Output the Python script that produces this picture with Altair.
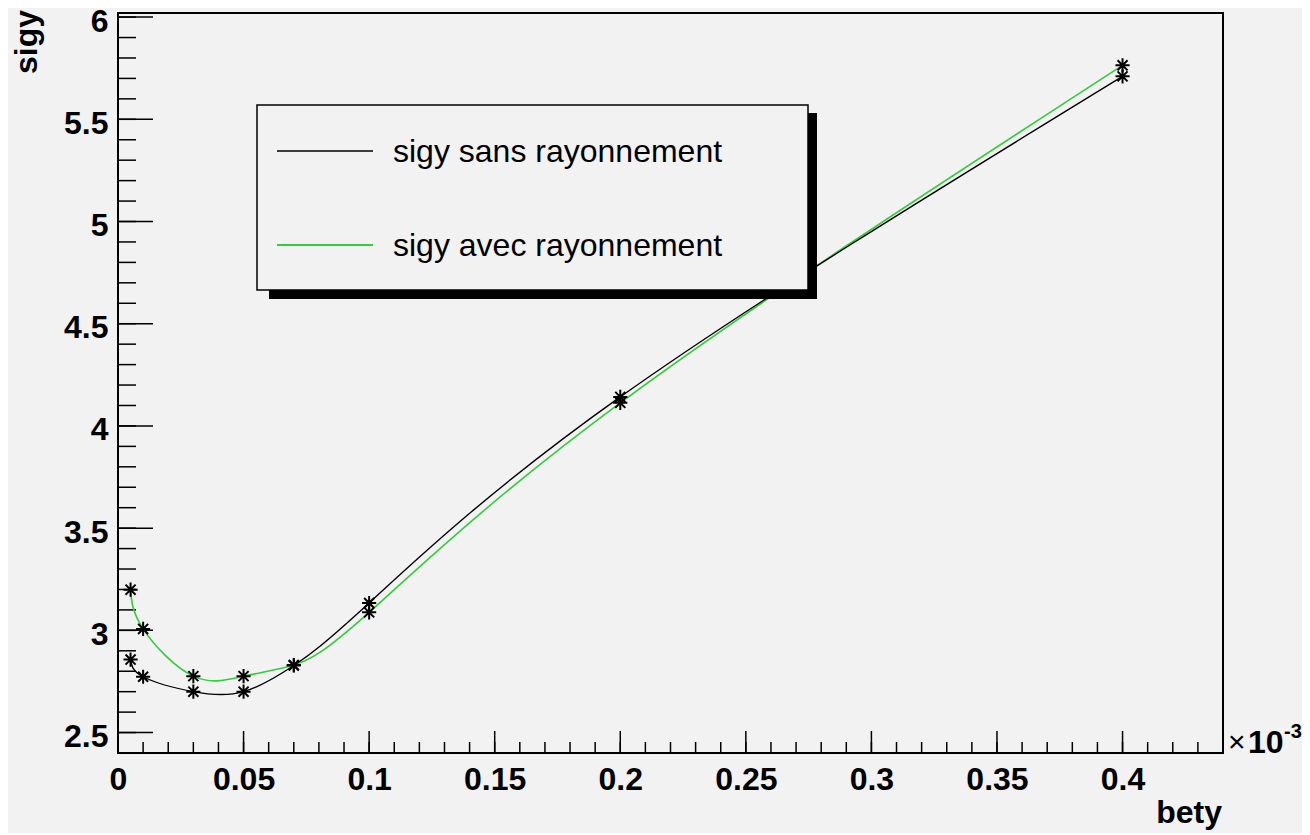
import altair as alt
import pandas as pd

# ---- data ----
bety = [0.005, 0.01, 0.03, 0.05, 0.07, 0.1, 0.2, 0.4]
sigy_sans = [2.857, 2.773, 2.700, 2.700, 2.828, 3.134, 4.142, 5.710]
sigy_avec = [3.199, 3.007, 2.776, 2.776, 2.830, 3.088, 4.113, 5.764]
series_names = ["sigy sans rayonnement", "sigy avec rayonnement"]
series_colors = ["#000000", "#33cc3a"]

x_major = [0, 0.05, 0.1, 0.15, 0.2, 0.25, 0.3, 0.35, 0.4]
x_minor = [round(i * 0.01, 2) for i in range(45)]
y_major = [2.5, 3, 3.5, 4, 4.5, 5, 5.5, 6]
y_minor = [round(2.4 + i * 0.1, 1) for i in range(37)]

x_title = "bety"
y_title = "sigy"
exp_times = "×"
exp_base = "10"
exp_power = "-3"

W, H = 1105, 740
BG = "#f2f2f2"
FONT = "Liberation Sans"

xs = alt.Scale(domain=[0, 0.44], nice=False, zero=False)
ys = alt.Scale(domain=[2.4, 6.02], nice=False, zero=False)

AX = alt.Axis(values=x_major, format="~g", title=None, labelPadding=11, labelFlush=False,
              labelOverlap=False, domain=False, ticks=False, grid=False,
              labelFont=FONT, labelFontWeight="bold", labelFontSize=32, labelColor="black")
AY = alt.Axis(values=y_major, format="~g", title=None, labelPadding=10, labelFlush=False,
              labelOverlap=False, domain=False, ticks=False, grid=False, labelOffset=4,
              labelFont=FONT, labelFontWeight="bold", labelFontSize=32, labelColor="black")

df_sans = pd.DataFrame({"bety": bety, "sigy": sigy_sans})
df_avec = pd.DataFrame({"bety": bety, "sigy": sigy_avec})
df_pts = pd.concat([df_sans, df_avec], ignore_index=True)

one = pd.DataFrame({"a": [0]})


def X(field):
    return alt.X(field, scale=xs, axis=AX)


def Y(field):
    return alt.Y(field, scale=ys, axis=AY)


# tick marks drawn inside the frame (ROOT style)
def xticks(vals, length):
    return alt.Chart(pd.DataFrame({"bety": vals})).mark_rule(color="black", strokeWidth=1.5).encode(
        x=X("bety:Q"), y=alt.value(H), y2=alt.value(H - length))


def yticks(vals, length):
    return alt.Chart(pd.DataFrame({"sigy": vals})).mark_rule(color="black", strokeWidth=1.5).encode(
        y=Y("sigy:Q"), x=alt.value(0), x2=alt.value(length))


line_avec = alt.Chart(df_avec).mark_line(interpolate="natural", color=series_colors[1],
                                         strokeWidth=1.6).encode(x=X("bety:Q"), y=Y("sigy:Q"))
line_sans = alt.Chart(df_sans).mark_line(interpolate="natural", color=series_colors[0],
                                         strokeWidth=1.4).encode(x=X("bety:Q"), y=Y("sigy:Q"))

asterisk = "M-1,0L1,0M0,-1L0,1M-0.71,-0.71L0.71,0.71M-0.71,0.71L0.71,-0.71"
points = alt.Chart(df_pts).mark_point(shape=asterisk, filled=False, color="black",
                                      strokeWidth=2, size=200, opacity=1).encode(
    x=X("bety:Q"), y=Y("sigy:Q"))

# legend box
shadow = alt.Chart(one).mark_rect(color="black").encode(
    x=alt.value(151), x2=alt.value(699), y=alt.value(100), y2=alt.value(286))
box = alt.Chart(one).mark_rect(fill=BG, stroke="black", strokeWidth=1.5).encode(
    x=alt.value(139), x2=alt.value(690), y=alt.value(92), y2=alt.value(277))
leg_line1 = alt.Chart(one).mark_rule(color=series_colors[0], strokeWidth=1.5).encode(
    x=alt.value(159), x2=alt.value(255), y=alt.value(138))
leg_line2 = alt.Chart(one).mark_rule(color=series_colors[1], strokeWidth=1.8).encode(
    x=alt.value(159), x2=alt.value(255), y=alt.value(232))
leg_text1 = alt.Chart(one).mark_text(font=FONT, fontSize=32, align="left", baseline="middle",
                                     color="black").encode(
    x=alt.value(275), y=alt.value(139), text=alt.value(series_names[0]))
leg_text2 = alt.Chart(one).mark_text(font=FONT, fontSize=32, align="left", baseline="middle",
                                     color="black").encode(
    x=alt.value(275), y=alt.value(233), text=alt.value(series_names[1]))

# axis titles and exponent
xtitle = alt.Chart(one).mark_text(font=FONT, fontSize=32, fontWeight="bold", align="right",
                                  baseline="alphabetic", color="black").encode(
    x=alt.value(W - 1), y=alt.value(810), text=alt.value(x_title))
ytitle = alt.Chart(one).mark_text(font=FONT, fontSize=32, fontWeight="bold", align="right",
                                  baseline="alphabetic", angle=270, color="black").encode(
    x=alt.value(-81), y=alt.value(-3), text=alt.value(y_title))
e1 = alt.Chart(one).mark_text(font=FONT, fontSize=30, align="left", baseline="alphabetic",
                              color="black").encode(
    x=alt.value(1110), y=alt.value(739), text=alt.value(exp_times))
e2 = alt.Chart(one).mark_text(font=FONT, fontSize=32, fontWeight="bold", align="left",
                              baseline="alphabetic", color="black").encode(
    x=alt.value(1130), y=alt.value(740), text=alt.value(exp_base))
e3 = alt.Chart(one).mark_text(font=FONT, fontSize=20, fontWeight="bold", align="left",
                              baseline="alphabetic", color="black").encode(
    x=alt.value(1166), y=alt.value(725), text=alt.value(exp_power))

chart = alt.layer(
    xticks(x_minor, 11), xticks(x_major, 22),
    yticks(y_minor, 18), yticks(y_major, 35),
    line_avec, line_sans, points,
    shadow, box, leg_line1, leg_line2, leg_text1, leg_text2,
    xtitle, ytitle, e1, e2, e3,
).properties(
    width=W, height=H,
    autosize=alt.AutoSizeParams(type="none"),
    padding={"left": 110, "top": 5, "right": 79, "bottom": 80},
).configure(background=BG).configure_view(
    stroke="black", strokeWidth=2, fill=BG
)

chart.save("out.html", embed_options={"renderer": "svg", "actions": False})
